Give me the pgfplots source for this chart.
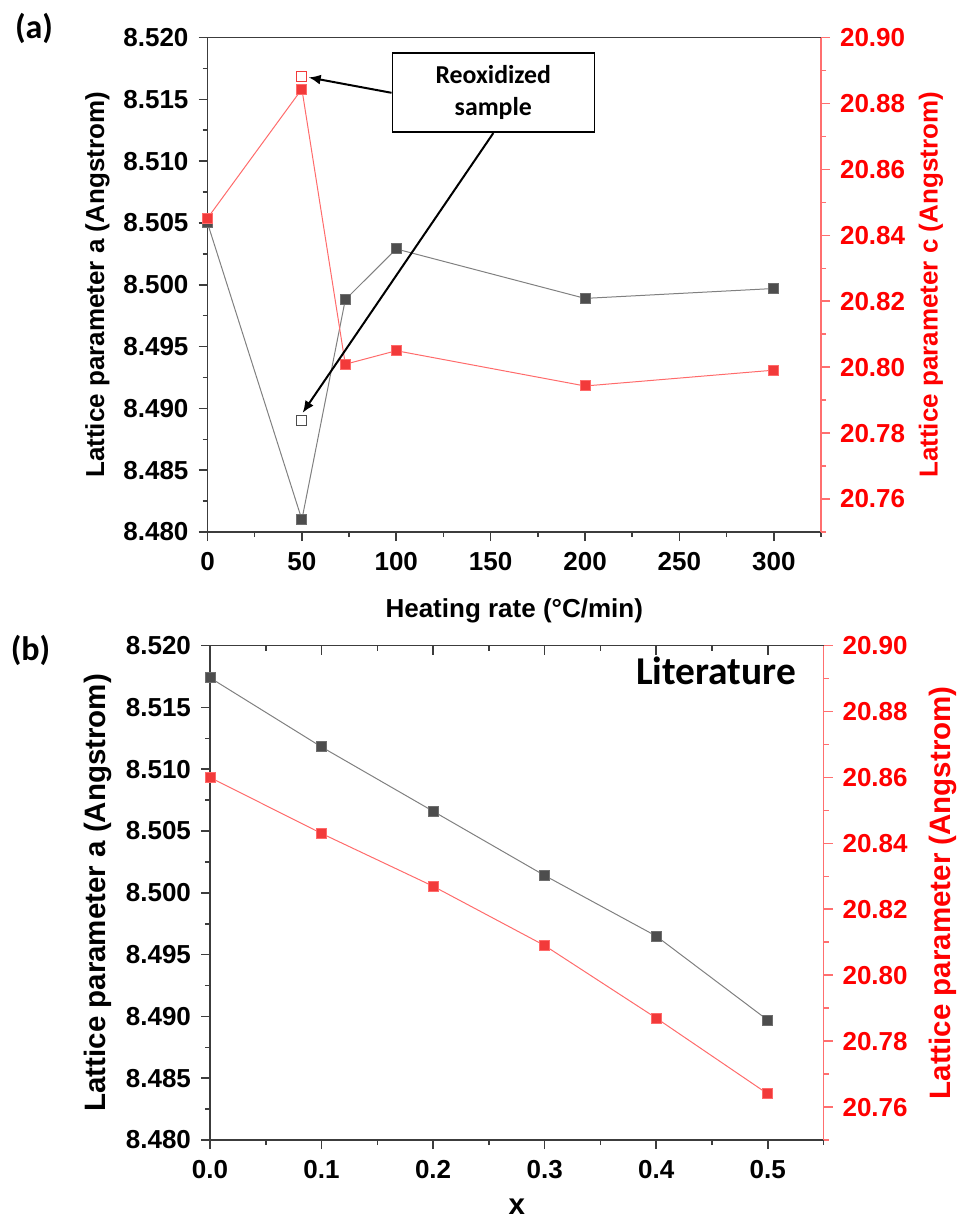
\documentclass[border=0pt]{standalone}
\usepackage{fontspec}
\setmainfont{Liberation Sans}
\newfontfamily\calibri{Carlito}
\usepackage{pgfplots}
\pgfplotsset{compat=1.18}
\usetikzlibrary{arrows.meta}

\definecolor{axisgray}{HTML}{3C3C3C}
\definecolor{aline}{HTML}{808080}
\definecolor{amark}{HTML}{4D4D4D}
\definecolor{amarkedge}{HTML}{6E6E6E}
\definecolor{cline}{HTML}{FF6B6B}
\definecolor{cmark}{HTML}{F23A3A}
\definecolor{cmarkedge}{HTML}{FF6A6A}
\definecolor{caxis}{HTML}{FF6F6F}
\definecolor{ctext}{HTML}{FF0000}

\pgfplotsset{
  panel/.style={
    scale only axis, width=306.75pt, height=247.2pt,
    anchor=south west, clip=false,
    tick align=outside,
    major tick length=4.5pt, minor tick length=2.5pt,
    axis line style={line width=0.8pt},
    tick label style={font=\fontsize{13}{15}\selectfont\bfseries},
    xticklabel shift=2pt, yticklabel shift=1.5pt,
    /pgf/number format/assume math mode=true,
  },
  left side/.style={
    axis x line*=bottom, axis y line*=left,
    axis line style={draw=axisgray},
    tick style={draw=axisgray, line width=0.8pt},
    minor tick style={draw=axisgray, line width=0.8pt},
    ymin=8.480, ymax=8.520,
    ytick={8.480,8.485,8.490,8.495,8.500,8.505,8.510,8.515,8.520},
    minor ytick={8.4825,8.4875,8.4925,8.4975,8.5025,8.5075,8.5125,8.5175},
    yticklabel style={/pgf/number format/.cd, fixed, fixed zerofill, precision=3},
  },
  right side/.style={
    axis y line*=right, axis x line=none,
    axis line style={draw=caxis},
    tick style={draw=caxis, line width=0.8pt},
    minor tick style={draw=caxis, line width=0.8pt},
    ymin=20.75, ymax=20.90,
    ytick={20.76,20.78,20.80,20.82,20.84,20.86,20.88,20.90},
    minor ytick={20.75,20.77,20.79,20.81,20.83,20.85,20.87,20.89},
    yticklabel style={text=ctext, /pgf/number format/.cd, fixed, fixed zerofill, precision=2},
    ylabel style={text=ctext},
  },
  top side/.style={
    axis x line*=top, axis y line=none,
    axis line style={draw=axisgray},
    tick style={draw=axisgray, line width=0.8pt},
    minor tick style={draw=axisgray, line width=0.8pt},
    ymin=0, ymax=1, ytick=\empty, xticklabels=\empty,
  },
  aseries/.style={draw=aline, line width=0.5pt, mark=square*, mark size=2.5pt,
    mark options={fill=amark, draw=amarkedge, line width=0.5pt, solid}},
  cseries/.style={draw=cline, line width=0.5pt, mark=square*, mark size=2.5pt,
    mark options={fill=cmark, draw=cmarkedge, line width=0.5pt, solid}},
}

\begin{document}
\begin{tikzpicture}
\useasboundingbox (0,0) rectangle (479pt,-612pt);

% ---------- (a) lattice parameters vs heating rate ----------
\begin{axis}[panel, left side, at={(103.75pt,-266pt)},
  xmin=0, xmax=325,
  xtick={0,50,100,150,200,250,300},
  minor xtick={25,75,125,175,225,275,325},
  xlabel={Heating rate (°C/min)}, xlabel shift=7pt,
  ylabel={Lattice parameter a (Angstrom)},
  label style={font=\fontsize{13}{15}\selectfont\bfseries},
]
\addplot[aseries] coordinates {
  (0,8.5050) (50,8.4810) (73,8.4988) (100,8.5029) (200,8.4989) (300,8.4997)};
\addplot[only marks, mark=square, mark size=2.5pt,
  mark options={draw=amark, fill=white, line width=0.6pt}] coordinates {(50,8.4890)};
\coordinate (tipc) at (axis cs:53.6,8.51678);
\coordinate (tipa) at (axis cs:50.4,8.48964);
\end{axis}

\begin{axis}[panel, top side, at={(103.75pt,-266pt)},
  xmin=0, xmax=325, xtick=\empty]
\end{axis}

\begin{axis}[panel, right side, at={(103.75pt,-266pt)},
  xmin=0, xmax=325,
  ylabel={Lattice parameter c (Angstrom)},
  label style={font=\fontsize{13}{15}\selectfont\bfseries},
]
\addplot[cseries] coordinates {
  (0,20.8452) (50,20.8844) (73,20.8009) (100,20.8050) (200,20.7943) (300,20.7991)};
\addplot[only marks, mark=square, mark size=2.5pt,
  mark options={draw=cmark, fill=white, line width=0.6pt}] coordinates {(50,20.8882)};
\end{axis}

\node[draw=black, line width=0.8pt, fill=white, minimum width=101pt,
  minimum height=39.5pt, align=center,
  font=\calibri\bfseries\fontsize{12.9}{16}\selectfont] (rbox)
  at (246.65pt,-46.4pt) {Reoxidized\\sample};
\draw[line width=1pt, -{Latex[length=6pt,width=5pt]}] (rbox.west) -- (tipc);
\draw[line width=1pt, -{Latex[length=6pt,width=5pt]}] (rbox.south) -- (tipa);

\node[font=\calibri\bfseries\fontsize{17}{20}\selectfont] at (17pt,-14pt) {(a)};

% ---------- (b) literature values vs x ----------
\begin{axis}[panel, left side, at={(105pt,-570pt)},
  xmin=0, xmax=0.55,
  xtick={0,0.1,0.2,0.3,0.4,0.5},
  minor xtick={0.05,0.15,0.25,0.35,0.45,0.55},
  xticklabel style={/pgf/number format/.cd, fixed, fixed zerofill, precision=1},
  xlabel={x}, xlabel shift=3.5pt,
  ylabel={Lattice parameter a (Angstrom)},
  label style={font=\fontsize{14.75}{17}\selectfont\bfseries},
]
\addplot[aseries] coordinates {
  (0.0,8.5174) (0.1,8.5118) (0.2,8.5066) (0.3,8.5014) (0.4,8.4965) (0.5,8.4897)};
\end{axis}

\begin{axis}[panel, top side, at={(105pt,-570pt)}, tick align=inside,
  xmin=0, xmax=0.55,
  xtick={0,0.1,0.2,0.3,0.4,0.5},
  minor xtick={0.05,0.15,0.25,0.35,0.45,0.55}]
\end{axis}

\begin{axis}[panel, right side, at={(105pt,-570pt)},
  xmin=0, xmax=0.55,
  ylabel={Lattice parameter (Angstrom)}, ylabel shift=4pt,
  label style={font=\fontsize{14.75}{17}\selectfont\bfseries},
]
\addplot[cseries] coordinates {
  (0.0,20.860) (0.1,20.843) (0.2,20.827) (0.3,20.809) (0.4,20.787) (0.5,20.764)};
\end{axis}

\node[font=\calibri\bfseries\fontsize{19.7}{24}\selectfont] at (358pt,-335.5pt) {Literature};
\node[font=\calibri\bfseries\fontsize{17}{20}\selectfont] at (15.25pt,-325pt) {(b)};

\end{tikzpicture}
\end{document}
